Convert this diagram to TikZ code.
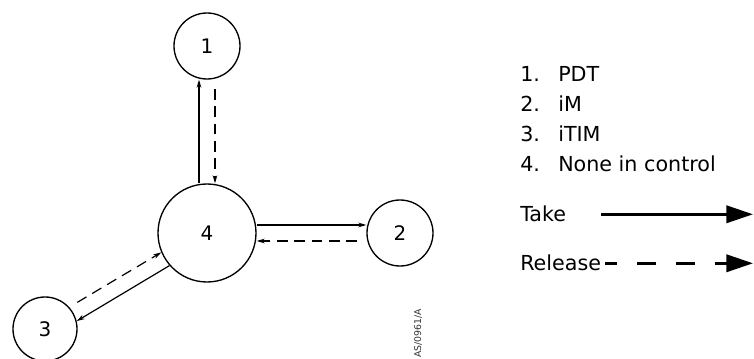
\documentclass[tikz,border=0pt]{standalone}
\usepackage{fontspec}
\setmainfont{DejaVu Sans}
\usetikzlibrary{arrows.meta}
\tikzset{
  state/.style={draw, circle, line width=1pt, inner sep=0pt, font=\fontsize{15}{18}\selectfont},
  take/.style={line width=0.9pt, -{Stealth[length=6pt,width=3.5pt]}},
  release/.style={take, dash pattern=on 8pt off 5pt, shorten <=7pt},
  legtext/.style={inner sep=0pt, anchor=base west, font=\fontsize{15.5}{18}\selectfont},
  legtake/.style={line width=2pt, -{Triangle[length=20pt,width=13pt]}},
  legrelease/.style={legtake, dash pattern=on 14pt off 15pt, dash phase=5pt}
}
\begin{document}
\begin{tikzpicture}[x=0.75pt, y=-0.75pt, line join=round]
	\useasboundingbox (0,0) rectangle (754,359);
	\node[state, minimum size=49.5pt] (n1) at (207,46) {1};
	\node[state, minimum size=73.5pt] (n4) at (207,233) {4};
	\node[state, minimum size=49.5pt] (n2) at (400,233) {2};
	\node[state, minimum size=48pt] (n3) at (45,329) {3};
	\draw[take] ([xshift=-6pt]n4.north) -- ([xshift=-6pt]n1.south);
	\draw[release] ([xshift=6pt]n1.south) -- ([xshift=6pt]n4.north);
	\draw[take] ([yshift=6pt]n4.east) -- ([yshift=6pt]n2.west);
	\draw[release] ([yshift=-6pt]n2.west) -- ([yshift=-6pt]n4.east);
	\draw[take] (n4.221) -- (n3.14);
	\draw[release] (n3.42) -- (n4.203);
	\foreach \t [count=\i] in {PDT,iM,iTIM,None in control}{
		\node[legtext] (num\i) at (520,52+30*\i) {\i.};
		\node[legtext] (item\i) at (558,52+30*\i) {\t};
	}
	\node[legtext] (take) at (520,222) {Take};
	\node[legtext] (release) at (520,271) {Release};
	\coordinate (legend end) at (753,213);
	\draw[legtake] ([xshift=26pt]take.east) -- (take.east -| legend end);
	\draw[legrelease] ([xshift=3pt]release.east) -- (release.east -| legend end);
	\node[rotate=90, anchor=east, inner sep=0pt, text=black!80, font=\fontsize{7}{8}\selectfont] (code) at (418,309) {AS/0961/A};
\end{tikzpicture}
\end{document}
